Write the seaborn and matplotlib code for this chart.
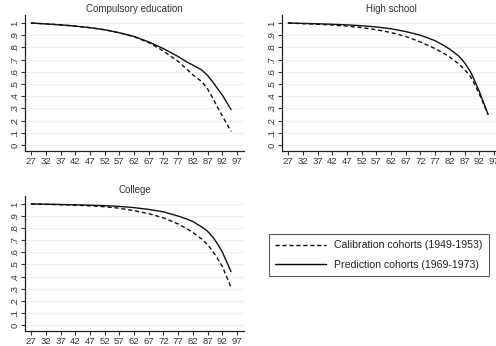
import seaborn as sns
import matplotlib.pyplot as plt
import pandas as pd
import numpy as np
from matplotlib.lines import Line2D

ages = [27, 32, 37, 42, 47, 52, 57, 62, 67, 72, 77, 80, 82, 85, 87, 89, 90, 92, 95]

comp_pred = [1.0, 0.993, 0.985, 0.975, 0.962, 0.945, 0.92, 0.89, 0.845, 0.79, 0.725, 0.68, 0.655, 0.615, 0.57, 0.51, 0.475, 0.41, 0.29]
comp_cal = [1.0, 0.993, 0.985, 0.975, 0.962, 0.945, 0.92, 0.888, 0.84, 0.77, 0.685, 0.62, 0.575, 0.52, 0.46, 0.375, 0.325, 0.24, 0.11]
hs_pred = [1.0, 0.997, 0.994, 0.99, 0.985, 0.978, 0.968, 0.953, 0.93, 0.9, 0.855, 0.815, 0.785, 0.73, 0.675, 0.6, 0.55, 0.44, 0.25]
hs_cal = [1.0, 0.995, 0.99, 0.984, 0.975, 0.963, 0.945, 0.922, 0.89, 0.845, 0.79, 0.75, 0.72, 0.665, 0.62, 0.56, 0.52, 0.42, 0.25]
col_pred = [1.0, 0.998, 0.996, 0.993, 0.99, 0.986, 0.98, 0.97, 0.955, 0.935, 0.9, 0.875, 0.855, 0.81, 0.775, 0.72, 0.685, 0.605, 0.44]
col_cal = [1.0, 0.997, 0.994, 0.99, 0.985, 0.977, 0.965, 0.945, 0.92, 0.885, 0.835, 0.795, 0.765, 0.71, 0.665, 0.6, 0.565, 0.485, 0.31]

panels = ['Compulsory education', 'High school', 'College']
cal_label = 'Calibration cohorts (1949-1953)'
pred_label = 'Prediction cohorts (1969-1973)'

x_ticks = list(range(27, 98, 5))
y_ticks = [round(v * 0.1, 1) for v in range(11)]
y_labels = ['0', '.1', '.2', '.3', '.4', '.5', '.6', '.7', '.8', '.9', '1']

rows = []
for name, cal, pred in zip(panels, [comp_cal, hs_cal, col_cal], [comp_pred, hs_pred, col_pred]):
    for a, c, p in zip(ages, cal, pred):
        rows.append((name, a, cal_label, c))
        rows.append((name, a, pred_label, p))
df = pd.DataFrame(rows, columns=['panel', 'age', 'cohort', 'surv'])

sns.set_style('white')
plt.rcParams['font.family'] = ['Liberation Sans', 'DejaVu Sans']

fig = plt.figure(figsize=(4.96, 3.46), dpi=100)
W, H = 496, 346
boxes = [(25, 15, 219, 136), (282, 15, 219, 136), (25, 196, 219, 135)]

for name, (l, t, w, h) in zip(panels, boxes):
    ax = fig.add_axes([l / W, (H - t - h) / H, w / W, h / H])
    sub = df[df['panel'] == name]
    sns.lineplot(data=sub, x='age', y='surv', style='cohort', color='#111111',
                 dashes={cal_label: (3, 2), pred_label: ''},
                 style_order=[cal_label, pred_label], legend=False, ax=ax, linewidth=1.0)
    ax.set_xlim(24.9, 99.4)
    ax.set_ylim(-0.05, 1.066)
    ax.set_xticks(x_ticks)
    ax.set_xticklabels([str(v) for v in x_ticks])
    ax.set_yticks(y_ticks)
    ax.set_yticklabels(y_labels, rotation=90, va='center')
    for v in y_ticks:
        ax.axhline(v, color='#eaf2f3', lw=0.9, zorder=0)
    ax.tick_params(axis='both', length=3, width=0.8, color='#333333',
                   labelsize=6.8, labelcolor='#333333', pad=1.2, direction='out')
    ax.tick_params(axis='both', which='both', bottom=True, left=True)
    for s in ['top', 'right']:
        ax.spines[s].set_visible(False)
    for s in ['left', 'bottom']:
        ax.spines[s].set_color('#222222')
        ax.spines[s].set_linewidth(0.9)
    ax.set_xlabel('')
    ax.set_ylabel('')
    ax.set_title(name, fontsize=7, color='#333333', pad=2)

handles = [Line2D([], [], color='black', lw=1.0, dashes=(3, 2)),
           Line2D([], [], color='black', lw=1.0)]
leg = fig.legend(handles, [cal_label, pred_label], loc='center',
                 bbox_to_anchor=((267 + 112) / W, (H - 255) / H),
                 fontsize=7.6, frameon=True, fancybox=False, handlelength=4.8,
                 handletextpad=0.8, labelspacing=0.9, borderpad=0.6)
leg.get_frame().set_edgecolor('#333333')
leg.get_frame().set_linewidth(0.8)
for t in leg.get_texts():
    t.set_color('#222222')

fig.savefig('out.png', dpi=100)
